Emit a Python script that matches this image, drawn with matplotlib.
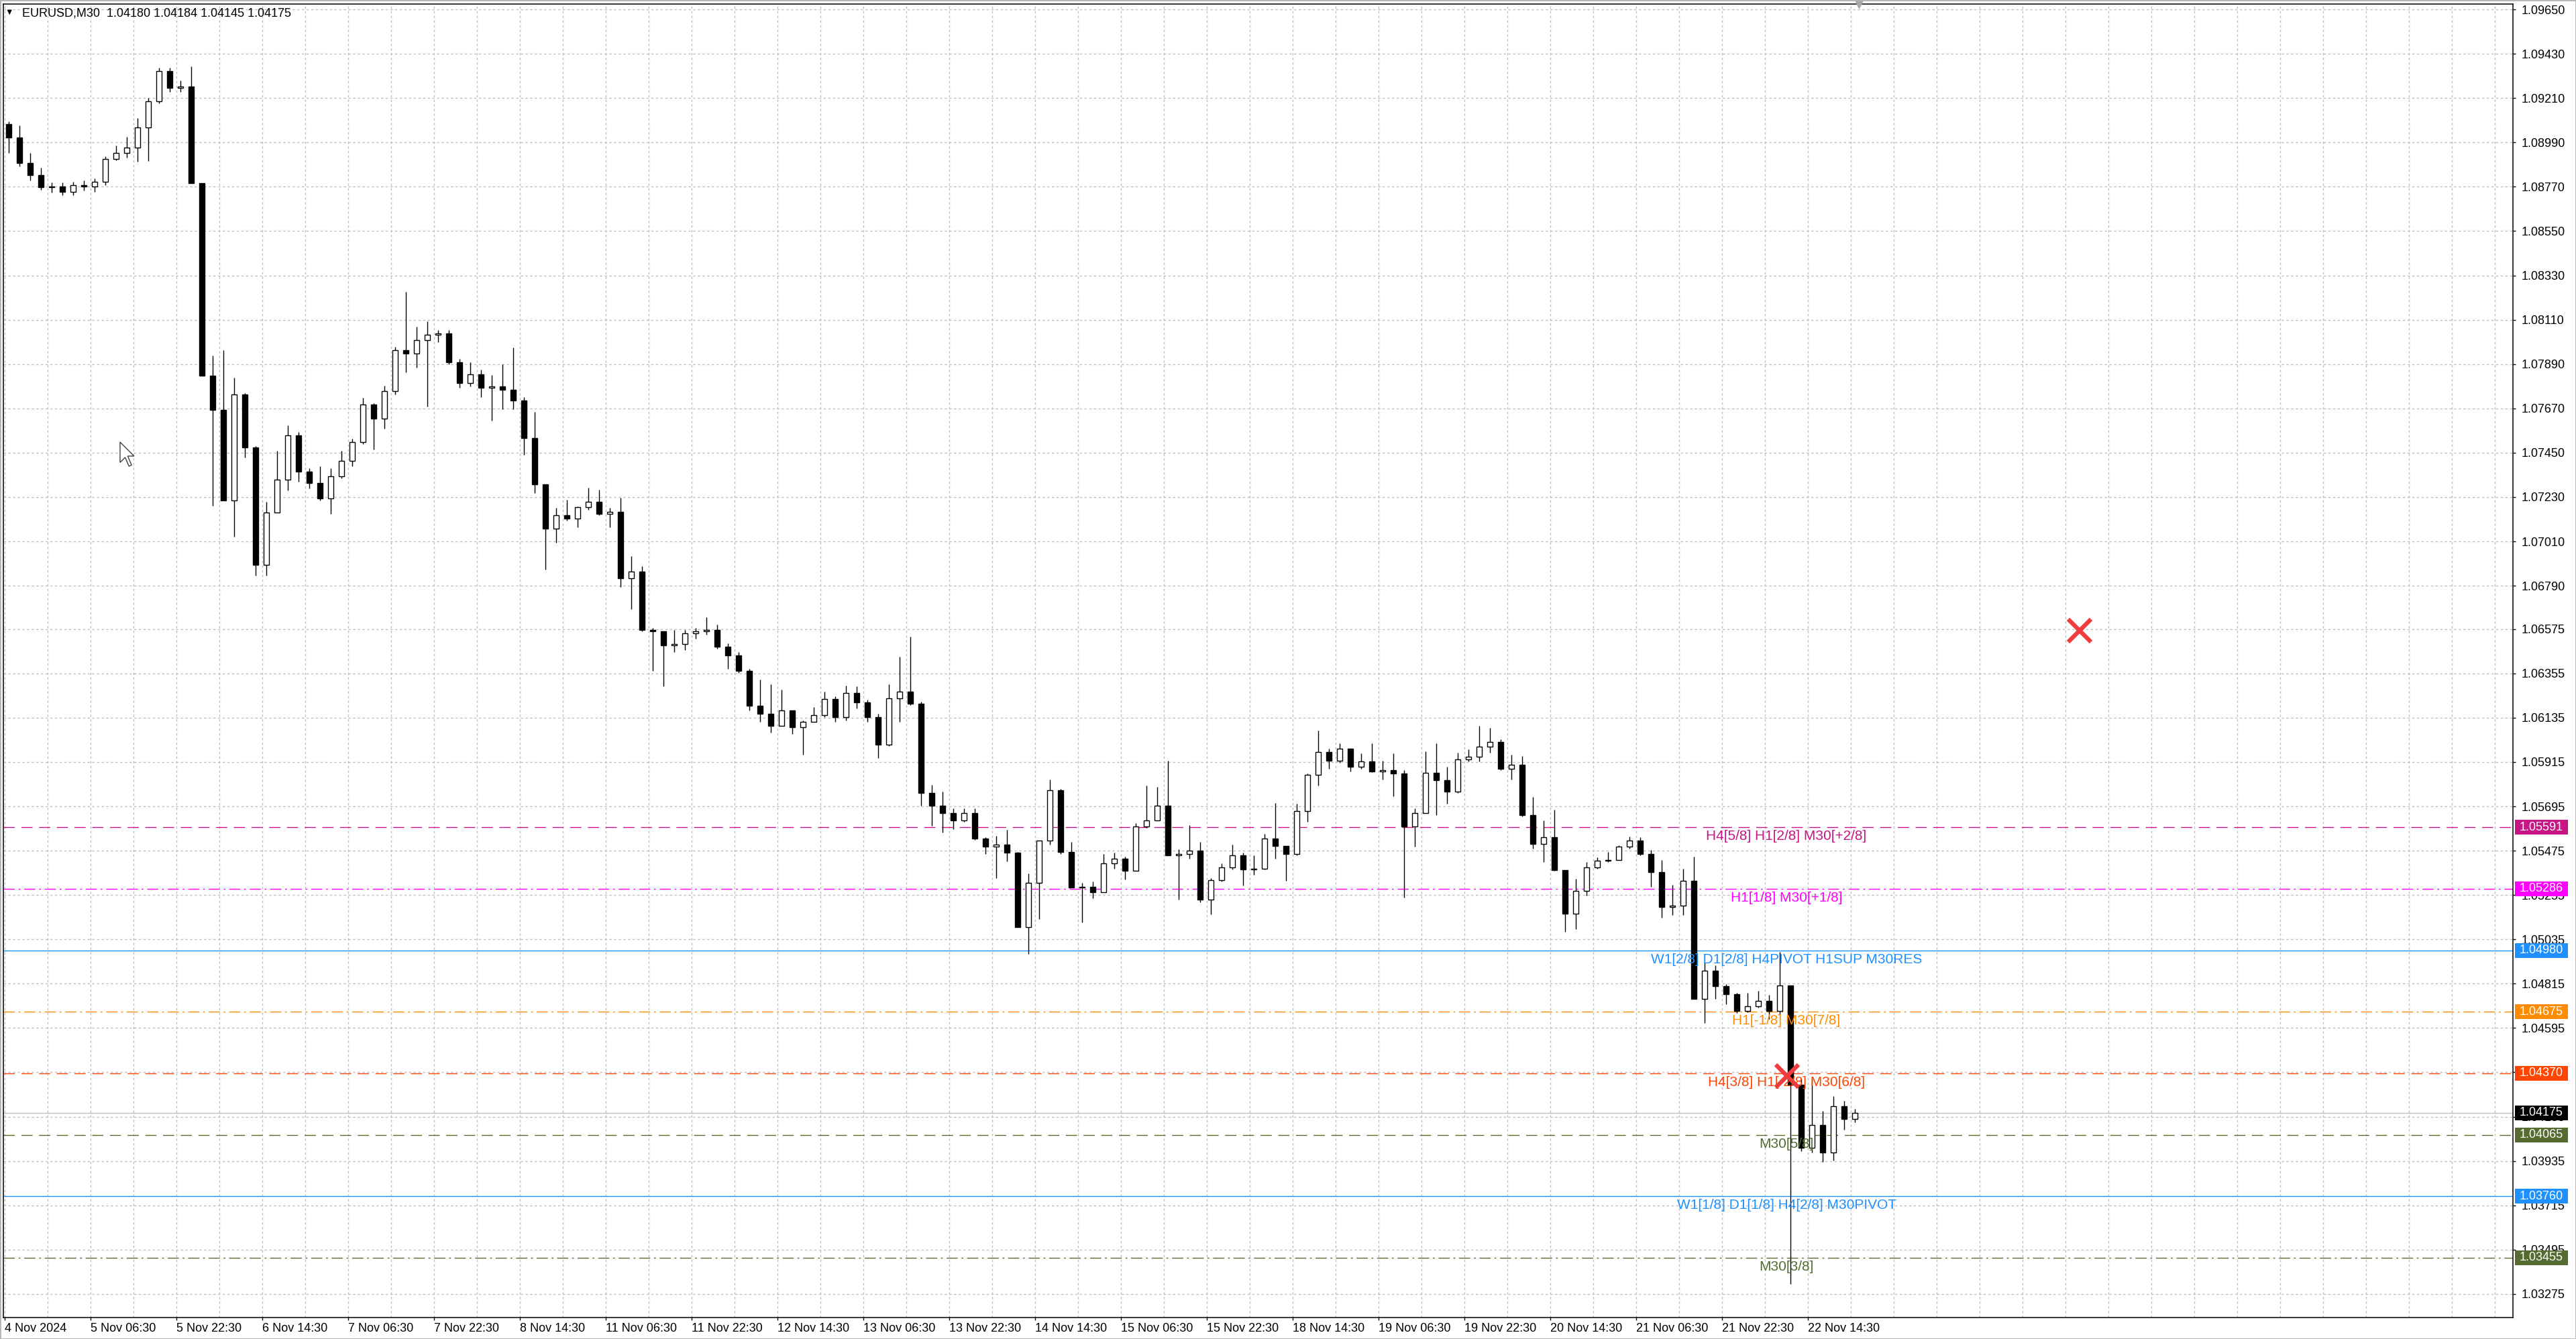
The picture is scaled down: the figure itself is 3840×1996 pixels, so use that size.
import numpy as np
import matplotlib
matplotlib.use("Agg")
import matplotlib.pyplot as plt
from matplotlib.patches import Rectangle, Polygon
from matplotlib.transforms import blended_transform_factory, IdentityTransform

plt.rcParams['font.family'] = ['Liberation Sans', 'DejaVu Sans']

# header of the chart window
symbol = "EURUSD,M30"
last_ohlc = [1.04180, 1.04184, 1.04145, 1.04175]

# price path, one candle per 2 hours (= 4 slots of M30 bars)
# from 4 Nov 14:30 to 22 Nov 23:30
first_open = 1.09080
closes = [
    1.09015, 1.08889, 1.08829, 1.08767, 1.08773, 1.08745, 1.08779, 1.08770, 1.08796, 1.08909,
    1.08939, 1.08965, 1.09066, 1.09193, 1.09345, 1.09261, 1.09269, 1.08787, 1.07831, 1.07662,
    1.07213, 1.07738, 1.07475, 1.06892, 1.07154, 1.07315, 1.07535, 1.07357, 1.07301, 1.07222,
    1.07334, 1.07410, 1.07503, 1.07688, 1.07620, 1.07755, 1.07958, 1.07941, 1.08008, 1.08034,
    1.08042, 1.07899, 1.07797, 1.07839, 1.07773, 1.07778, 1.07761, 1.07710, 1.07523, 1.07294,
    1.07073, 1.07141, 1.07124, 1.07180, 1.07205, 1.07146, 1.07158, 1.06826, 1.06860, 1.06572,
    1.06563, 1.06495, 1.06500, 1.06555, 1.06563, 1.06572, 1.06487, 1.06444, 1.06368, 1.06193,
    1.06155, 1.06096, 1.06172, 1.06087, 1.06113, 1.06147, 1.06227, 1.06138, 1.06257, 1.06210,
    1.06138, 1.06002, 1.06232, 1.06266, 1.06206, 1.05760, 1.05700, 1.05661, 1.05625, 1.05661,
    1.05536, 1.05494, 1.05506, 1.05464, 1.05095, 1.05315, 1.05524, 1.05774, 1.05470, 1.05291,
    1.05297, 1.05268, 1.05411, 1.05434, 1.05375, 1.05595, 1.05625, 1.05697, 1.05452, 1.05458,
    1.05476, 1.05232, 1.05330, 1.05393, 1.05452, 1.05381, 1.05387, 1.05536, 1.05500, 1.05458,
    1.05673, 1.05852, 1.05965, 1.05923, 1.05980, 1.05893, 1.05917, 1.05869, 1.05875, 1.05857,
    1.05596, 1.05663, 1.05863, 1.05824, 1.05768, 1.05929, 1.05941, 1.05991, 1.06013, 1.05880,
    1.05902, 1.05652, 1.05507, 1.05541, 1.05380, 1.05163, 1.05274, 1.05391, 1.05424, 1.05430,
    1.05496, 1.05524, 1.05457, 1.05368, 1.05196, 1.05202, 1.05324, 1.04741, 1.04880, 1.04802,
    1.04763, 1.04680, 1.04702, 1.04730, 1.04680, 1.04806, 1.04312, 1.04001, 1.04112, 1.03977,
    1.04208, 1.04144, 1.04175,
]
highs = [
    1.09095, 1.09075, 1.08939, 1.08863, 1.08790, 1.08790, 1.08796, 1.08801, 1.08811, 1.08922,
    1.08976, 1.09019, 1.09112, 1.09210, 1.09362, 1.09362, 1.09298, 1.09367, 1.08787, 1.07932,
    1.07958, 1.07822, 1.07746, 1.07484, 1.07205, 1.07458, 1.07586, 1.07552, 1.07374, 1.07382,
    1.07374, 1.07458, 1.07518, 1.07722, 1.07696, 1.07781, 1.07975, 1.08250, 1.08076, 1.08102,
    1.08059, 1.08059, 1.07916, 1.07899, 1.07863, 1.07837, 1.07888, 1.07973, 1.07727, 1.07654,
    1.07183, 1.07175, 1.07217, 1.07183, 1.07277, 1.07268, 1.07178, 1.07226, 1.06937, 1.06886,
    1.06580, 1.06563, 1.06572, 1.06572, 1.06580, 1.06634, 1.06597, 1.06504, 1.06461, 1.06376,
    1.06325, 1.06300, 1.06274, 1.06164, 1.06121, 1.06189, 1.06266, 1.06240, 1.06295, 1.06291,
    1.06223, 1.06155, 1.06300, 1.06436, 1.06538, 1.06215, 1.05800, 1.05768, 1.05685, 1.05685,
    1.05685, 1.05542, 1.05548, 1.05578, 1.05470, 1.05363, 1.05524, 1.05828, 1.05780, 1.05518,
    1.05315, 1.05321, 1.05458, 1.05464, 1.05446, 1.05613, 1.05798, 1.05792, 1.05923, 1.05482,
    1.05601, 1.05518, 1.05339, 1.05411, 1.05506, 1.05464, 1.05452, 1.05560, 1.05711, 1.05482,
    1.05709, 1.05858, 1.06072, 1.05983, 1.06007, 1.05983, 1.05959, 1.06009, 1.05923, 1.05959,
    1.05874, 1.05685, 1.05968, 1.06007, 1.05891, 1.05963, 1.05979, 1.06096, 1.06085, 1.06029,
    1.05952, 1.05946, 1.05741, 1.05624, 1.05680, 1.05374, 1.05335, 1.05418, 1.05441, 1.05468,
    1.05502, 1.05546, 1.05541, 1.05479, 1.05430, 1.05307, 1.05385, 1.05446, 1.04918, 1.04907,
    1.04813, 1.04769, 1.04769, 1.04780, 1.04758, 1.04974, 1.04806, 1.04344, 1.04344, 1.04184,
    1.04256, 1.04232, 1.04192,
]
lows = [
    1.08939, 1.08872, 1.08800, 1.08756, 1.08740, 1.08729, 1.08729, 1.08750, 1.08746, 1.08779,
    1.08902, 1.08914, 1.08894, 1.08897, 1.09185, 1.09240, 1.09240, 1.08787, 1.07831, 1.07188,
    1.07213, 1.07035, 1.07425, 1.06841, 1.06841, 1.07154, 1.07264, 1.07306, 1.07272, 1.07213,
    1.07145, 1.07323, 1.07383, 1.07492, 1.07467, 1.07569, 1.07738, 1.07848, 1.07873, 1.07679,
    1.08000, 1.07890, 1.07772, 1.07780, 1.07727, 1.07608, 1.07667, 1.07667, 1.07438, 1.07251,
    1.06869, 1.07005, 1.07115, 1.07081, 1.07166, 1.07141, 1.07081, 1.06784, 1.06673, 1.06563,
    1.06368, 1.06291, 1.06461, 1.06470, 1.06529, 1.06546, 1.06478, 1.06376, 1.06359, 1.06172,
    1.06113, 1.06062, 1.06096, 1.06053, 1.05951, 1.06113, 1.06138, 1.06113, 1.06121, 1.06181,
    1.06113, 1.05934, 1.05994, 1.06113, 1.06198, 1.05700, 1.05600, 1.05566, 1.05583, 1.05619,
    1.05530, 1.05458, 1.05339, 1.05423, 1.05095, 1.04964, 1.05137, 1.05506, 1.05458, 1.05291,
    1.05119, 1.05238, 1.05268, 1.05387, 1.05333, 1.05375, 1.05589, 1.05649, 1.05452, 1.05232,
    1.05434, 1.05220, 1.05160, 1.05321, 1.05381, 1.05303, 1.05357, 1.05381, 1.05434, 1.05327,
    1.05452, 1.05619, 1.05798, 1.05881, 1.05911, 1.05869, 1.05881, 1.05864, 1.05828, 1.05744,
    1.05241, 1.05496, 1.05696, 1.05652, 1.05707, 1.05763, 1.05918, 1.05918, 1.05963, 1.05874,
    1.05829, 1.05646, 1.05485, 1.05418, 1.05374, 1.05074, 1.05085, 1.05252, 1.05385, 1.05418,
    1.05446, 1.05485, 1.05452, 1.05296, 1.05141, 1.05157, 1.05157, 1.04741, 1.04619, 1.04741,
    1.04713, 1.04668, 1.04674, 1.04696, 1.04641, 1.04663, 1.03323, 1.03985, 1.03977, 1.03929,
    1.03937, 1.04089, 1.04128,
]
bars_per_candle = 4

# murrey math levels drawn by the indicator
levels = [1.05591, 1.05286, 1.04980, 1.04675, 1.04370, 1.04065, 1.03760, 1.03455]
level_names = [
    "H4[5/8] H1[2/8] M30[+2/8]",
    "H1[1/8] M30[+1/8]",
    "W1[2/8] D1[2/8] H4PIVOT H1SUP M30RES",
    "H1[-1/8] M30[7/8]",
    "H4[3/8] H1[-2/8] M30[6/8]",
    "M30[5/8]",
    "W1[1/8] D1[1/8] H4[2/8] M30PIVOT",
    "M30[3/8]",
]
level_colors = ['#C71585', '#FF00FF', '#1E90FF', '#FF8C00', '#FF4500', '#556B2F', '#1E90FF', '#556B2F']
level_styles = ['dash', 'dashdot', 'solid', 'dashdot', 'dash', 'dash', 'solid', 'dashdot']
bid = 1.04175

y_ticks = [1.09650, 1.09430, 1.09210, 1.08990, 1.08770, 1.08550, 1.08330, 1.08110, 1.07890,
           1.07670, 1.07450, 1.07230, 1.07010, 1.06790, 1.06575, 1.06355, 1.06135, 1.05915,
           1.05695, 1.05475, 1.05255, 1.05035, 1.04815, 1.04595, 1.04375, 1.04155, 1.03935,
           1.03715, 1.03495, 1.03275]
x_labels = ["4 Nov 2024", "5 Nov 06:30", "5 Nov 22:30", "6 Nov 14:30", "7 Nov 06:30",
            "7 Nov 22:30", "8 Nov 14:30", "11 Nov 06:30", "11 Nov 22:30", "12 Nov 14:30",
            "13 Nov 06:30", "13 Nov 22:30", "14 Nov 14:30", "15 Nov 06:30", "15 Nov 22:30",
            "18 Nov 14:30", "19 Nov 06:30", "19 Nov 22:30", "20 Nov 14:30", "21 Nov 06:30",
            "21 Nov 22:30", "22 Nov 14:30"]
x_label_step = 32   # M30 bars between labels

# red crosses placed on the chart (bar index, price)
cross_x = [773.25, 664.25]
cross_y = [1.06567, 1.04357]

# ---------------------------------------------------------------
W, H = 3840, 1996
fig = plt.figure(figsize=(W / 100, H / 100), dpi=100, facecolor='white')
ax_l, ax_r, ax_t, ax_b = 5, 3746, 6, 1964
ax = fig.add_axes([ax_l / W, (H - ax_b) / H, (ax_r - ax_l) / W, (ax_b - ax_t) / H])
ymin, ymax = 1.03158, 1.09677
ax.set_xlim(-0.5, 934.75)
ax.set_ylim(ymin, ymax)

grid_ls = (0, (2.5, 2.5))
ax.set_yticks(y_ticks)
ax.set_yticklabels([f"{t:.5f}" for t in y_ticks])
ax.yaxis.tick_right()
ax.set_xticks(np.arange(len(x_labels)) * x_label_step)
ax.set_xticklabels(x_labels, ha='left')
ax.set_xticks(np.arange(16, 935, 16), minor=True)
ax.set_axisbelow(True)
ax.grid(axis='y', color='#c0c0c0', linestyle=grid_ls, linewidth=1.0)
ax.grid(axis='x', which='both', color='#c0c0c0', linestyle=grid_ls, linewidth=1.0)
ax.tick_params(axis='y', which='major', length=3, width=1, pad=6, labelsize=13)
ax.tick_params(axis='x', which='major', length=3, width=1, pad=3, labelsize=13)
ax.tick_params(axis='x', which='minor', length=0)
for s in ax.spines.values():
    s.set_linewidth(1.1)
    s.set_color('black')

# candles
o = np.array([first_open] + closes[:-1])
c = np.array(closes)
hi = np.maximum(np.array(highs), np.maximum(o, c))
lo = np.minimum(np.array(lows), np.minimum(o, c))
x = np.arange(len(c)) * bars_per_candle + (bars_per_candle - 1) / 2
ax.vlines(x, lo, hi, color='black', linewidth=1.0, zorder=3)
up = c >= o
body_w = 2.1
ax.bar(x[up], (c - o)[up], bottom=o[up], width=body_w, facecolor='white',
       edgecolor='black', linewidth=1.0, zorder=4)
ax.bar(x[~up], (o - c)[~up], bottom=c[~up], width=body_w, facecolor='black',
       edgecolor='black', linewidth=1.0, zorder=4)

# levels
dash_map = {'dash': (0, (12, 7)), 'dashdot': (0, (12, 4, 2, 4)), 'solid': '-'}
label_x = 664
for val, name, col, st in zip(levels, level_names, level_colors, level_styles):
    ax.axhline(val, color=col, linewidth=1.0, linestyle=dash_map[st], zorder=2)
    ax.annotate(name, (label_x, val), xytext=(0, -4), textcoords='offset pixels',
                ha='center', va='top', color=col, fontsize=15, zorder=6)
ax.axhline(bid, color='#c0c0c0', linewidth=1.0, zorder=2)

# price boxes on the right scale
trans = blended_transform_factory(ax.transAxes, ax.transData)
px = (ymax - ymin) / (ax_b - ax_t)
box_w = 79 / (ax_r - ax_l)
box_x0 = 1 + 3 / (ax_r - ax_l)
for val, col in list(zip(levels, level_colors)) + [(bid, 'black')]:
    ax.add_patch(Rectangle((box_x0, val - 11 * px), box_w, 22 * px, transform=trans,
                           facecolor=col, edgecolor='none', clip_on=False, zorder=7))
    ax.text(box_x0 + box_w / 2, val, f"{val:.5f}", transform=trans, ha='center',
            va='center', color='white', fontsize=13, zorder=8, clip_on=False)

# red crosses
ax.plot(cross_x, cross_y, linestyle='none', marker='x', markersize=24,
        markeredgewidth=4.5, color='#f03c3c', zorder=9)

# chart shift marker at the top
ax.plot([len(c) * bars_per_candle - 1], [ymax], marker='v', markersize=8,
        color='#a8a8a8', clip_on=False, zorder=9)

# header
fig.text(14 / W, 1 - 19 / H, "▼", fontsize=9, ha='center', va='center')
fig.text(33 / W, 1 - 20 / H, symbol + "  " + " ".join(f"{v:.5f}" for v in last_ohlc),
         fontsize=13, ha='left', va='center')

# mouse pointer
tip_x, tip_y = 179, H - 659
shape = np.array([(0, 0), (0, 16), (4, 12), (7, 19), (9, 18), (6, 11), (11, 11)]) * 1.9
pts = np.column_stack([tip_x + shape[:, 0], tip_y - shape[:, 1]])
fig.add_artist(Polygon(pts, closed=True, facecolor='white', edgecolor='#404040',
                       linewidth=1.0, transform=IdentityTransform(), zorder=10))

fig.add_artist(Rectangle((0, 0), 1, 1, transform=fig.transFigure, fill=False,
                         edgecolor='#b4b4b4', linewidth=2))

fig.savefig("out.png", dpi=100, facecolor='white')
